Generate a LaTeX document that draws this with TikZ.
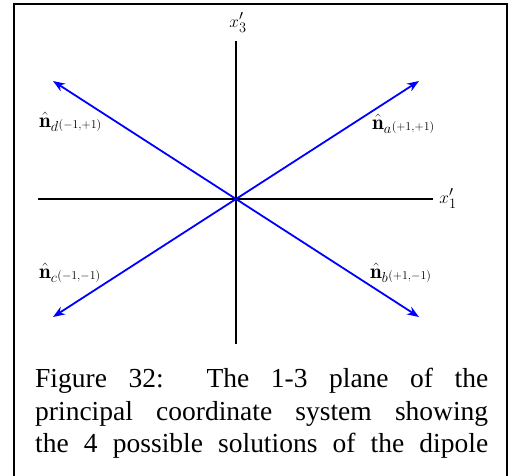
\documentclass[tikz,border=0pt]{standalone}
\usepackage{fontspec}
\usepackage{amsmath}
\newfontfamily\capfont{Liberation Serif}
\usetikzlibrary{arrows.meta}
\newcommand{\nlab}[2]{$\hat{\mathbf{n}}$\raisebox{-4pt}{\fontsize{15}{15}\selectfont$#1$}\hspace{0.5pt}\raisebox{-1pt}{\fontsize{12}{12}\selectfont$#2$}}
\begin{document}
\begin{tikzpicture}[x=1pt,y=-1pt,
  axis/.style={line width=2pt,black},
  vec/.style={line width=1.8pt,blue,-{Stealth[length=12pt,width=9pt]}},
  lbl/.style={inner sep=0pt,anchor=base west,font=\fontsize{21}{21}\selectfont},
  axlbl/.style={inner sep=0pt,anchor=base,font=\fontsize{19}{19}\selectfont},
  capline/.style={inner sep=0pt,anchor=base west,font=\capfont\fontsize{27.5}{32}\selectfont}]
\useasboundingbox (0,0) rectangle (509,475);
\fill[white] (0,0) rectangle (509,475);
% frame
\draw[line width=2pt] (14,480) -- (14,4) -- (507,4) -- (507,480);
% axes
\coordinate (o) at (236,199);
\coordinate (top) at (236,41);
\coordinate (bot) at (236,344);
\coordinate (left) at (38,199);
\coordinate (right) at (433,199);
\draw[axis] (top) -- (bot);
\draw[axis] (left) -- (right);
\node[axlbl] (x3) at (238,27) {$x'_3$};
\node[axlbl] (x1) at (448,203) {$x'_1$};
% vectors
\coordinate (ta) at (419,81);
\coordinate (td) at (53,81);
\coordinate (tc) at (53,317);
\coordinate (tb) at (419,317);
\draw[vec] (o) -- (ta);
\draw[vec] (o) -- (td);
\draw[vec] (o) -- (tc);
\draw[vec] (o) -- (tb);
\node[lbl] (na) at (372,129) {\nlab{a}{({+}1{,}{+}1)}};
\node[lbl] (nd) at (39,127) {\nlab{d}{({-}1{,}{+}1)}};
\node[lbl] (nc) at (39,278) {\nlab{c}{({-}1{,}{-}1)}};
\node[lbl] (nb) at (370,278) {\nlab{b}{({+}1{,}{-}1)}};
% caption
\node[capline] (c1) at (35,387) {\makebox[453pt][s]{Figure 32:\ \ The 1-3 plane of the}};
\node[capline] (c2) at (35,420) {\makebox[453pt][s]{principal coordinate system showing}};
\node[capline] (c3) at (35,452) {\makebox[453pt][s]{the 4 possible solutions of the dipole}};
\end{tikzpicture}
\end{document}
